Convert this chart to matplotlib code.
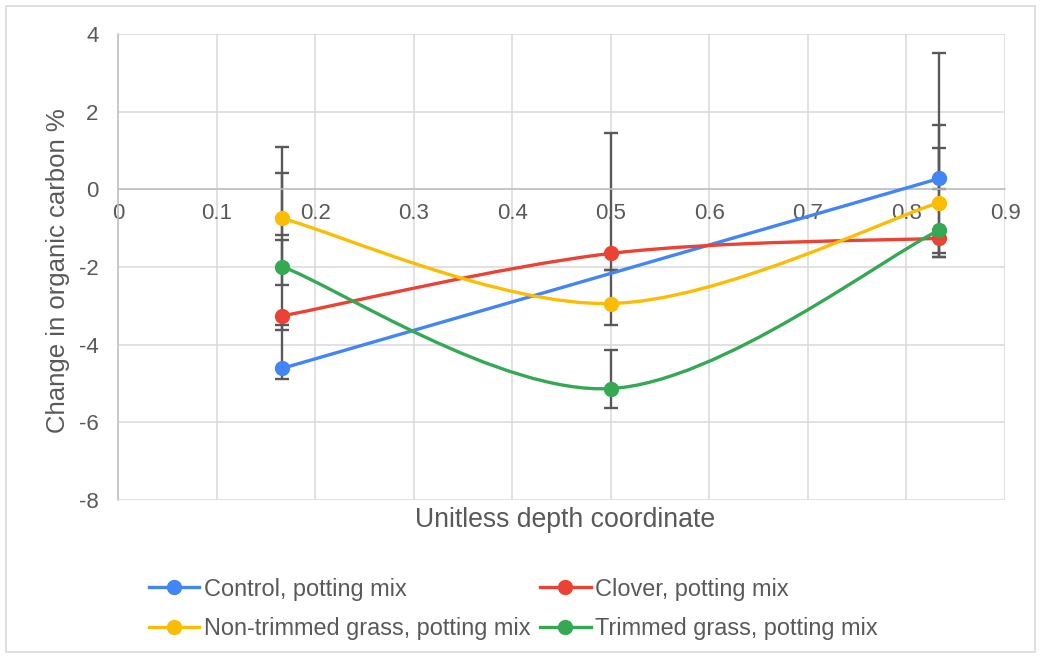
import numpy as np
import matplotlib
matplotlib.use("Agg")
import matplotlib.pyplot as plt
from matplotlib.path import Path
from matplotlib.patches import PathPatch, Rectangle
from matplotlib.lines import Line2D

plt.rcParams['font.family'] = ['Liberation Sans', 'DejaVu Sans']
plt.rcParams['axes.unicode_minus'] = False

# ---- data ----
x_depth = [1/6, 0.5, 5/6]
series_names = ["Control, potting mix", "Clover, potting mix",
                "Non-trimmed grass, potting mix", "Trimmed grass, potting mix"]
control = [-4.61, np.nan, 0.28]
clover = [-3.26, -1.65, -1.26]
nontrimmed = [-0.75, -2.94, -0.34]
trimmed = [-1.99, -5.13, -1.05]

control_err_lo = [0.28, 0.0, 0.27]
control_err_hi = [1.11, 0.0, 3.22]
clover_err_lo = [0.36, 0.43, 0.49]
clover_err_hi = [1.95, 3.09, 0.21]
nontrimmed_err_lo = [0.43, 0.55, 1.29]
nontrimmed_err_hi = [1.84, 0.86, 2.00]
trimmed_err_lo = [0.47, 0.51, 0.70]
trimmed_err_hi = [2.40, 0.99, 2.12]

x_ticks = [0, 0.1, 0.2, 0.3, 0.4, 0.5, 0.6, 0.7, 0.8, 0.9]
x_ticklabels = ["0", "0.1", "0.2", "0.3", "0.4", "0.5", "0.6", "0.7", "0.8", "0.9"]
y_ticks = [-8, -6, -4, -2, 0, 2, 4]

colors = ["#4285F4", "#EA4335", "#FBBC04", "#34A853"]
txt = "#595959"

W, H = 1041, 657
fig = plt.figure(figsize=(W/100, H/100), dpi=100)
ax = fig.add_axes([118/W, 1-500/H, (1005-118)/W, (500-34)/H])

def smooth_path(xs, ys, t=1/6):
    pts = [(a, b) for a, b in zip(xs, ys) if np.isfinite(b)]
    P = np.array(pts)
    n = len(P)
    verts = [tuple(P[0])]
    codes = [Path.MOVETO]
    for i in range(n-1):
        p0 = P[i-1] if i > 0 else P[i]
        p1 = P[i]
        p2 = P[i+1]
        p3 = P[i+2] if i+2 < n else P[i+1]
        c1 = p1 + (p2 - p0) * t
        c2 = p2 - (p3 - p1) * t
        verts += [tuple(c1), tuple(c2), tuple(p2)]
        codes += [Path.CURVE4]*3
    return Path(verts, codes)

data = [control, clover, nontrimmed, trimmed]
errs = [(control_err_lo, control_err_hi), (clover_err_lo, clover_err_hi),
        (nontrimmed_err_lo, nontrimmed_err_hi), (trimmed_err_lo, trimmed_err_hi)]

for (lo, hi), ys in zip(errs, data):
    ax.errorbar(x_depth, ys, yerr=[lo, hi], fmt='none', ecolor="#595959",
                elinewidth=1.7, capsize=4.8, capthick=1.7, zorder=2)

handles = []
for k, (ys, c, name) in enumerate(zip(data, colors, series_names)):
    ax.add_patch(PathPatch(smooth_path(x_depth, ys), facecolor='none', edgecolor=c,
                           lw=2.4, zorder=3+k, capstyle='round'))
    ax.plot(x_depth, ys, 'o', color=c, ms=10, zorder=3.5+k, mec=c)
    handles.append(Line2D([], [], color=c, lw=2.4, marker='o', ms=10))

ax.set_xlim(0, 0.9)
ax.set_ylim(-8, 4)
ax.set_xticks(x_ticks)
ax.set_xticklabels(x_ticklabels)
ax.set_yticks(y_ticks)
ax.grid(True, color="#d9d9d9", lw=1.1, zorder=0)
ax.set_axisbelow(True)
for s in ['top', 'right']:
    ax.spines[s].set_visible(False)
ax.spines['bottom'].set_position(('data', 0))
ax.spines['bottom'].set_color("#bfbfbf")
ax.spines['left'].set_color("#bfbfbf")
ax.spines['bottom'].set_linewidth(1.1)
ax.spines['left'].set_linewidth(1.1)
ax.tick_params(axis='both', length=0, labelsize=16, labelcolor=txt)
ax.tick_params(axis='x', pad=10)
ax.tick_params(axis='y', pad=14)

ax.set_xlabel("Unitless depth coordinate", fontsize=19.2, color=txt)
ax.xaxis.set_label_coords((565-118)/(1005-118), (500-520)/(500-34))
ax.xaxis.label.set_va('center')
ax.set_ylabel("Change in organic carbon %", fontsize=18.5, color=txt)
ax.yaxis.set_label_coords((58-118)/(1005-118), (500-271)/(500-34))
ax.yaxis.label.set_va('center')

order = [0, 2, 1, 3]
fig.legend([handles[i] for i in order], [series_names[i] for i in order],
           ncol=2, loc='center left', bbox_to_anchor=(149/W, 1-609/H),
           frameon=False, fontsize=16.9, labelcolor=txt, handlelength=2.15,
           handletextpad=0.2, columnspacing=0.4, labelspacing=0.72, borderpad=0,
           borderaxespad=0)

fig.add_artist(Rectangle((6/W, 5/H), (1035-6)/W, (651-5)/H, transform=fig.transFigure,
                         facecolor='none', edgecolor="#d9d9d9", lw=1.2))

fig.savefig("out.png", dpi=100)
